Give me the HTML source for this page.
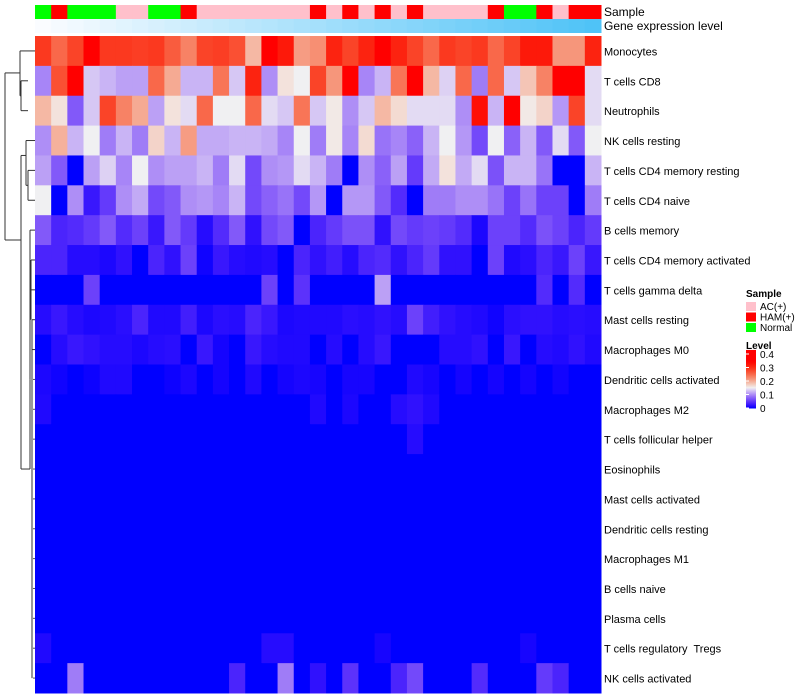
<!DOCTYPE html>
<html><head><meta charset="utf-8"><style>
body{margin:0;background:#fff;}
svg{display:block;font-family:"Liberation Sans",sans-serif;}
text{white-space:pre;}
</style></head><body>
<svg id="chart" width="800" height="700"></svg>
<script>
const rows=["Monocytes","T cells CD8","Neutrophils","NK cells resting","T cells CD4 memory resting","T cells CD4 naive","B cells memory","T cells CD4 memory activated","T cells gamma delta","Mast cells resting","Macrophages M0","Dendritic cells activated","Macrophages M2","T cells follicular helper","Eosinophils","Mast cells activated","Dendritic cells resting","Macrophages M1","B cells naive","Plasma cells","T cells regulatory  Tregs","NK cells activated"];
const samples="G R G G G P P G G R P P P P P P P R P R P R P R P P P P R G G R P R R".split(" ");
const vMono=[.29,.25,.28,.38,.29,.29,.285,.29,.26,.23,.28,.285,.27,.19,.37,.32,.21,.22,.31,.28,.31,.36,.31,.28,.25,.29,.28,.29,.25,.28,.32,.32,.215,.215,.31];
const vCD8=[.095,.27,.37,.13,.12,.11,.11,.25,.2,.12,.12,.24,.13,.31,.1,.16,.15,.28,.215,.37,.095,.12,.24,.38,.19,.135,.25,.09,.25,.13,.18,.23,.4,.4,.14];
const vNeu=[.19,.16,.07,.13,.28,.23,.2,.11,.16,.14,.25,.15,.15,.25,.14,.13,.24,.13,.155,.1,.13,.19,.165,.14,.14,.14,.1,.33,.12,.37,.155,.17,.105,.28,.14];
const vNKr=[.1,.195,.12,.15,.09,.12,.09,.17,.12,.21,.115,.115,.12,.12,.115,.095,.15,.09,.155,.095,.165,.085,.095,.075,.12,.15,.105,.06,.15,.075,.12,.07,.14,.07,.15];
const vCD4mr=[.11,.07,0,.11,.135,.095,.15,.1,.11,.11,.12,.09,.14,.06,.1,.105,.14,.12,.09,0,.1,.075,.11,.05,.115,.16,.115,.14,.065,.12,.12,.085,0,0,.12];
const vCD4n=[.15,0,.1,.025,.05,.1,.115,.06,.07,.1,.105,.095,.12,.06,.075,.085,.06,.105,0,.105,.105,.07,.04,0,.09,.09,.1,.1,.085,.055,.085,.055,.055,0,.09];
const vBmem=[.07,.035,.04,.05,.07,.04,.055,.025,.07,.05,.015,.04,.07,.02,.06,.07,0,.035,.05,.065,.065,.02,.06,.05,.055,.05,.04,.01,.055,.055,.04,.065,.055,.035,.05];
const vCD4ma=[.035,.035,.015,.015,.01,.02,0,.035,.02,.055,.005,.025,.015,.012,.015,0,.035,.02,.03,.015,.035,.04,.02,.035,.05,.02,.02,0,.055,.012,.017,.035,.025,.055,.025];
const vGD=[0,0,0,.055,0,0,0,0,0,0,0,0,0,0,.055,0,.045,0,0,0,0,.11,0,0,0,0,0,0,0,0,0,.04,0,.04,0];
const vMastR=[.015,.025,.015,.01,.012,.017,.035,.012,.012,.03,.01,.017,.015,.035,.025,.01,.012,.012,.012,.017,.015,.02,.015,.055,.03,.02,.015,.012,.005,.017,.02,.02,.015,.017,.015];
const vM0=[0,.015,.025,.02,.015,.015,.01,.015,.017,0,.025,.007,0,.025,.015,.012,.012,0,.015,0,.015,.025,0,0,0,.015,.015,.02,0,.025,0,.015,.012,.02,.012];
const vDCa=[.01,.005,0,.004,.012,.012,0,0,.004,.01,0,.007,0,.012,0,.007,.01,.008,0,.008,.008,0,0,.012,.008,0,.007,0,.007,0,.007,0,.006,0,0];
const vM2=[.012,0,0,0,0,0,0,0,0,0,0,0,0,0,0,0,0,.012,0,.01,0,0,.015,.02,.012,0,0,0,0,0,0,0,0,0,0];
const vTfh=[0,0,0,0,0,0,0,0,0,0,0,0,0,0,0,0,0,0,0,0,0,0,0,.015,0,0,0,0,0,0,0,0,0,0,0];
const vZero=[0,0,0,0,0,0,0,0,0,0,0,0,0,0,0,0,0,0,0,0,0,0,0,0,0,0,0,0,0,0,0,0,0,0,0];
const vTreg=[.012,0,0,0,0,0,0,0,0,0,0,0,0,0,.015,.015,0,0,0,0,0,.008,0,0,0,0,0,0,0,0,.008,0,0,0,0];
const vNKa=[0,0,.09,0,0,0,0,0,0,0,0,0,.035,0,0,.09,0,.02,0,.045,0,0,.035,.06,0,0,0,.04,0,0,0,.05,.035,0,0];
const matrix=[vMono,vCD8,vNeu,vNKr,vCD4mr,vCD4n,vBmem,vCD4ma,vGD,vMastR,vM0,vDCa,vM2,vTfh,vZero,vZero,vZero,vZero,vZero,vZero,vTreg,vNKa];
const legendTicks=[0,0.1,0.2,0.3,0.4];

const NS="http://www.w3.org/2000/svg";
const svg=document.getElementById('chart');
const X0=35,X1=601,Y0=36,Y1=693;
const nC=35,nR=rows.length;
const cw=(X1-X0)/nC, rh=(Y1-Y0)/nR;
const xPos=i=>X0+i*cw, yPos=r=>Y0+r*rh;
function lerp(a,b,t){return Math.round(a+(b-a)*t);}
function color(v){
  let r,g,b;
  if(v<=0.15){const t=Math.max(0,v/0.15);r=Math.round(240*Math.pow(t,0.8));g=Math.round(240*Math.pow(t,1.3));b=lerp(255,242,t);}
  else{const t=Math.min(1,(v-0.15)/0.2);r=lerp(242,255,t);g=Math.round(240*Math.pow(1-t,1.2));b=Math.round(240*Math.pow(1-t,1.7));}
  return `rgb(${r},${g},${b})`;
}
function el(tag,attrs){const e=document.createElementNS(NS,tag);for(const k in attrs)e.setAttribute(k,attrs[k]);svg.appendChild(e);return e;}
const sCol={P:"#FFC0CB",R:"#FF0000",G:"#00FF00"};
samples.forEach((s,i)=>{
  const e=el('rect',{x:xPos(i),y:5,width:cw+0.5,height:14,fill:sCol[s]});
  
  
  const t=i/(nC-1);
  const g=el('rect',{x:xPos(i),y:19,width:cw+0.5,height:14,fill:`rgb(${lerp(250,79,t)},${lerp(252,195,t)},${lerp(255,247,t)})`});
  
  
});
matrix.forEach((row,r)=>{
  row.forEach((v,c)=>{
    const e=el('rect',{x:xPos(c),y:yPos(r),width:cw+0.5,height:rh+0.5,fill:color(v)});
    
    
  });
  const t=el('text',{x:604,y:yPos(r)+rh/2+4.5,'font-size':11,fill:'#000'});
  t.textContent=rows[r];
  
  
});
const st=el('text',{x:604,y:16,'font-size':12});st.textContent="Sample";


const gt=el('text',{x:604,y:30,'font-size':12});gt.textContent="Gene expression level";


const yc=r=>yPos(r)+rh/2;
const segs=[
 [21,yc(1),28,yc(1)],[21,yc(2),28,yc(2)],[21,yc(1),21,yc(2)],
 [20,yc(0),35,yc(0)],[20,yc(0),20,(yc(1)+yc(2))/2],[20,(yc(1)+yc(2))/2,21,(yc(1)+yc(2))/2],
 [28,yc(4),35,yc(4)],[28,yc(5),35,yc(5)],[28,yc(4),28,yc(5)],
 [26,yc(3),35,yc(3)],[26,yc(3),26,(yc(4)+yc(5))/2],[26,(yc(4)+yc(5))/2,28,(yc(4)+yc(5))/2],
 [30,yc(6),35,yc(6)],[30,yc(6),30,yc(11)],[31,yc(7),35,yc(7)],[31,yc(8),35,yc(8)],[31,yc(7),31,yc(9)],[32,yc(9),35,yc(9)],[32,yc(10),35,yc(10)],[32,yc(9),32,yc(21)],
 [21,(yc(3)+yc(4))/2,26,(yc(3)+yc(4))/2],[21,(yc(3)+yc(4))/2,21,yc(14)],[21,yc(14),30,yc(14)],[30,yc(11),30,yc(14)],
 [5,yc(0)+22,20,yc(0)+22],[5,yc(0)+22,5,240],[5,240,21,240]
];
segs.forEach(s=>{const l=el('line',{x1:s[0],y1:s[1],x2:s[2],y2:s[3],stroke:'#333','stroke-width':1});
 });
for(let r=11;r<22;r++){const l=el('line',{x1:33,y1:yc(r),x2:35,y2:yc(r),stroke:'#555','stroke-width':1});
 }
const lt=el('text',{x:746,y:297,'font-size':10,'font-weight':'bold'});lt.textContent="Sample";

[["AC(+)","#FFC0CB"],["HAM(+)","#FF0000"],["Normal","#00FF00"]].forEach((d,i)=>{
 const r=el('rect',{x:746,y:302+i*10.5,width:10,height:9,fill:d[1]});
 
 const t=el('text',{x:760,y:310+i*10.5,'font-size':10});t.textContent=d[0];
 
});
const lv=el('text',{x:746,y:349,'font-size':10,'font-weight':'bold'});lv.textContent="Level";

const ly=v=>408-v*135;
for(let i=0;i<60;i++){const v=0.43*i/60;const r=el('rect',{x:746,y:ly(v+0.43/60),width:10,height:0.43/60*135+0.5,fill:color(v)});
 }
legendTicks.forEach(v=>{
 const l=el('line',{x1:746,y1:ly(v),x2:749,y2:ly(v),stroke:'#fff'});
 const t=el('text',{x:760,y:ly(v)+4,'font-size':10});t.textContent=v===0?"0":String(v);
 
});
</script>
</body></html>
